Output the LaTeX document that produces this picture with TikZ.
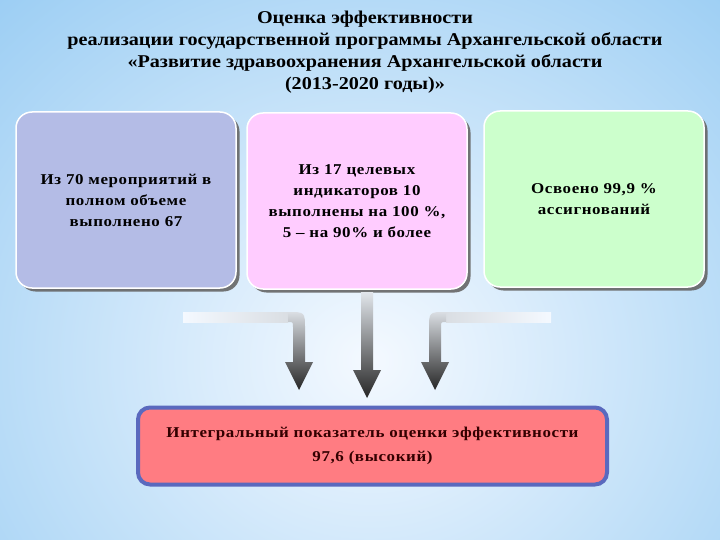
\documentclass[tikz,border=0pt]{standalone}
\usepackage{fontspec}
\setmainfont{Liberation Serif}
\newfontfamily\zagfont[FakeStretch=1.12]{Liberation Serif}
\newfontfamily\blokfont[FakeStretch=1.13,LetterSpace=4]{Liberation Serif}
\usetikzlibrary{shadows}
\definecolor{fonmodry}{HTML}{98CCF3}
\definecolor{fonbily}{HTML}{F4F9FF}
\definecolor{modra}{HTML}{B4BCE6}
\definecolor{ruzova}{HTML}{FFCCFF}
\definecolor{zelena}{HTML}{CCFFCC}
\definecolor{cervena}{HTML}{FF7C82}
\definecolor{okraj}{HTML}{5A69BE}
\definecolor{sipka}{HTML}{262626}
\definecolor{sipkasv}{HTML}{DADEE3}

\begin{document}
\begin{tikzpicture}[x=1pt,y=-1pt,
  blok/.style={draw=white,line width=1.5pt,rounded corners=16pt,minimum width=220pt,minimum height=176pt,align=center,
    drop shadow={shadow xshift=3.5pt,shadow yshift=-3.5pt,fill=black!60,opacity=.9},font=\blokfont\bfseries\fontsize{15}{21}\selectfont},
  itog/.style={draw=okraj,line width=4pt,fill=cervena,rounded corners=12pt,minimum width=469pt,minimum height=77pt,align=center,
    text=red!20!black,font=\blokfont\bfseries\fontsize{15}{24}\selectfont}]
  \useasboundingbox (0,0) rectangle (720,540);
  % pozadi
  \shade[inner color=fonbily,outer color=fonmodry] (-200,-160) rectangle (940,880);
  % nadpis
  \node[align=center,font=\zagfont\bfseries\fontsize{18}{21.8}\selectfont] (zag) at (365,52)
    {Оценка эффективности\\реализации государственной программы Архангельской области\\«Развитие здравоохранения Архангельской области\\(2013-2020 годы)»};
  % tri bloky nahore
  \node[blok,fill=modra] (m1) at (126,200) {Из 70 мероприятий в\\полном объеме\\выполнено 67};
  \node[blok,fill=ruzova] (m2) at (357,201) {Из 17 целевых\\индикаторов 10\\выполнены на 100 \%,\\5 – на 90\% и более};
  \node[blok,fill=zelena] (m3) at (594,199) {Освоено 99,9 \%\\ассигнований};
  % sipky dolu
  \shade[left color=fonbily,right color=sipkasv] (183,312) rectangle (288,322);
  \shade[top color=sipkasv,bottom color=sipka] (288,312) .. controls (305,312) .. (305,329) -- (305,362) -- (313,362) -- (299,390)
    -- (285,362) -- (293,362) -- (293,327) .. controls (293,322) .. (288,322) -- cycle;
  \shade[top color=sipkasv!70!fonbily,bottom color=sipka] (361,292) -- (373,292) -- (373,370) -- (381,370) -- (367,398)
    -- (353,370) -- (361,370) -- cycle;
  \shade[left color=sipkasv,right color=fonbily] (446,312) rectangle (551,322);
  \shade[top color=sipkasv,bottom color=sipka] (446,312) .. controls (429,312) .. (429,329) -- (429,362) -- (421,362) -- (435,390)
    -- (449,362) -- (441,362) -- (441,327) .. controls (441,322) .. (446,322) -- cycle;
  % vysledek
  \node[itog] (vysl) at (372.5,446) {Интегральный показатель оценки эффективности\\97,6 (высокий)};
\end{tikzpicture}
\end{document}
